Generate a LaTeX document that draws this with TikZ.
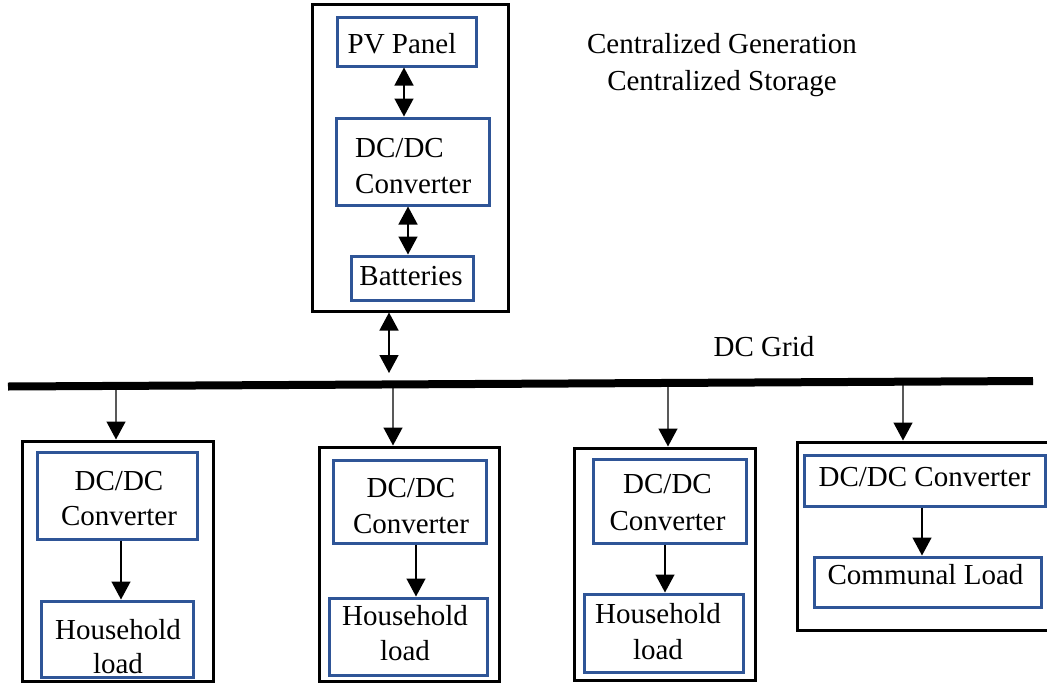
\documentclass[tikz,border=0pt]{standalone}
\usepackage{fontspec}
\setmainfont{Liberation Serif}
\usetikzlibrary{arrows.meta}
\definecolor{boxblue}{HTML}{2F5597}
\tikzset{
  outerbox/.style={draw=black, line width=3pt, rectangle, inner sep=0pt},
  bluebox/.style={draw=boxblue, line width=3pt, rectangle, inner sep=0pt, fill=white},
  txt/.style={inner sep=0pt, font=\fontsize{29}{36}\selectfont, align=center},
  tip/.tip={Triangle[width=19pt,length=18pt]},
  arr/.style={line width=1.4pt, -tip},
  biarr/.style={line width=1.4pt, tip-tip},
}
\begin{document}
\begin{tikzpicture}[x=1pt,y=-1pt]
\useasboundingbox (0,0) rectangle (1047,683);

% central generation and storage unit
\node[outerbox, minimum width=196pt, minimum height=307pt] (central) at (410,157.5) {};
\node[bluebox, minimum width=139pt, minimum height=49pt] (pv) at (406.5,41.5) {};
\node[bluebox, minimum width=153pt, minimum height=87pt] (dctop) at (412.5,161.5) {};
\node[bluebox, minimum width=122pt, minimum height=44pt] (bat) at (412,278) {};
\node[txt, anchor=base] (tpv) at (402,53) {PV Panel};
% (base anchor of a two-line node sits on its last line)
\node[txt, anchor=base west, align=left] (tdctop) at (355,193) {DC/DC\\Converter};
\node[txt, anchor=base] (tbat) at (411,285) {Batteries};
\draw[biarr] (pv.south -| 404,0) -- (dctop.north -| 404,0);
\draw[biarr] (dctop.south -| 408,0) -- (bat.north -| 408,0);

% headings
\node[txt, anchor=base, font=\fontsize{29}{37}\selectfont] (thead) at (722,90) {Centralized Generation\\Centralized Storage};
\node[txt, anchor=base] (tgrid) at (764,356) {DC Grid};

% DC grid bus
\coordinate (gl) at (8,386.5);
\coordinate (gr) at (1033,381);
\draw[line width=8pt] (gl) -- (gr);
\path (gl) -- (gr)
  coordinate[pos=0.3717] (g0)
  coordinate[pos=0.1054] (g1)
  coordinate[pos=0.3756] (g2)
  coordinate[pos=0.6439] (g3)
  coordinate[pos=0.8732] (g4);
\coordinate (gtop) at (389,373);
\draw[biarr] (central.south -| 389,0) -- (gtop);

% household 1
\node[outerbox, minimum width=191pt, minimum height=240pt] (h1) at (117.5,561) {};
\node[bluebox, minimum width=160pt, minimum height=87pt] (dc1) at (117,495.5) {};
\node[bluebox, minimum width=152pt, minimum height=76pt] (hh1) at (117,639) {};
\node[txt, anchor=base, font=\fontsize{29}{35}\selectfont] (tdc1) at (119,525) {DC/DC\\Converter};
\node[txt, anchor=base, font=\fontsize{29}{34}\selectfont] (thh1) at (118,673) {Household\\load};
\draw[arr] (g1) -- (h1.north -| 116,0);
\draw[arr] (dc1.south -| 121,0) -- (hh1.north -| 121,0);

% household 2
\node[outerbox, minimum width=180pt, minimum height=234pt] (h2) at (409,564) {};
\node[bluebox, minimum width=153pt, minimum height=83pt] (dc2) at (409.5,501.5) {};
\node[bluebox, minimum width=158pt, minimum height=77pt] (hh2) at (408,636.5) {};
\node[txt, anchor=base] (tdc2) at (411,533) {DC/DC\\Converter};
\node[txt, anchor=base, font=\fontsize{29}{35}\selectfont] (thh2) at (405,660) {Household\\load};
\draw[arr] (g2) -- (h2.north -| 393,0);
\draw[arr] (dc2.south -| 416,0) -- (hh2.north -| 416,0);

% household 3
\node[outerbox, minimum width=181pt, minimum height=232pt] (h3) at (664.5,564) {};
\node[bluebox, minimum width=153pt, minimum height=84pt] (dc3) at (669.5,501) {};
\node[bluebox, minimum width=159pt, minimum height=78pt] (hh3) at (663.5,633) {};
\node[txt, anchor=base, font=\fontsize{29}{37}\selectfont] (tdc3) at (667.5,530) {DC/DC\\Converter};
\node[txt, anchor=base] (thh3) at (658,659) {Household\\load};
\draw[arr] (g3) -- (h3.north -| 668,0);
\draw[arr] (dc3.south -| 665,0) -- (hh3.north -| 665,0);

% communal load
\node[outerbox, minimum width=255pt, minimum height=188pt] (h4) at (924.5,536) {};
\node[bluebox, minimum width=241pt, minimum height=51pt] (dc4) at (924.5,480.5) {};
\node[bluebox, minimum width=227pt, minimum height=50pt] (cl) at (927.5,582) {};
\node[txt, anchor=base] (tdc4) at (924.5,486) {DC/DC Converter};
\node[txt, anchor=base] (tcl) at (925.5,584) {Communal Load};
\draw[arr] (g4) -- (h4.north -| 903,0);
\draw[arr] (dc4.south -| 922,0) -- (cl.north -| 922,0);
\end{tikzpicture}
\end{document}
